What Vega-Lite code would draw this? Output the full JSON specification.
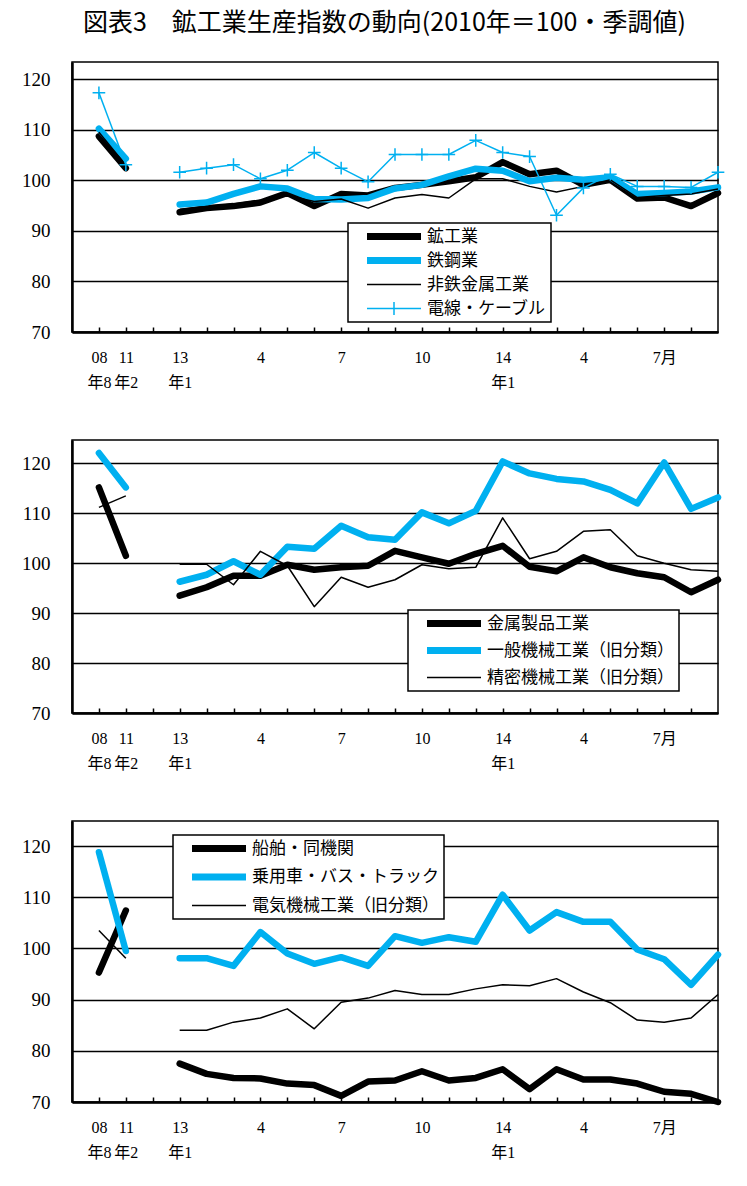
{
  "$schema": "https://vega.github.io/schema/vega-lite/v6.json",
  "padding": {"left": 20, "top": 11, "right": 5, "bottom": 5},
  "title": {
    "text": "図表3　鉱工業生産指数の動向(2010年＝100・季調値)",
    "font": "Noto Sans CJK JP",
    "fontSize": 25,
    "fontWeight": "normal",
    "color": "black",
    "anchor": "middle",
    "dx": 10,
    "offset": 25
  },
  "data": {
    "values": [
      {"p":1,"s":"鉱工業","g":"a","t":0,"v":108.7},{"p":1,"s":"鉱工業","g":"a","t":1,"v":102.4},
      {"p":1,"s":"鉱工業","g":"b","t":3,"v":93.7},{"p":1,"s":"鉱工業","g":"b","t":4,"v":94.5},{"p":1,"s":"鉱工業","g":"b","t":5,"v":94.9},
      {"p":1,"s":"鉱工業","g":"b","t":6,"v":95.6},{"p":1,"s":"鉱工業","g":"b","t":7,"v":97.5},{"p":1,"s":"鉱工業","g":"b","t":8,"v":94.9},
      {"p":1,"s":"鉱工業","g":"b","t":9,"v":97.3},{"p":1,"s":"鉱工業","g":"b","t":10,"v":97.0},{"p":1,"s":"鉱工業","g":"b","t":11,"v":98.5},
      {"p":1,"s":"鉱工業","g":"b","t":12,"v":99.1},{"p":1,"s":"鉱工業","g":"b","t":13,"v":99.8},{"p":1,"s":"鉱工業","g":"b","t":14,"v":100.6},
      {"p":1,"s":"鉱工業","g":"b","t":15,"v":103.6},{"p":1,"s":"鉱工業","g":"b","t":16,"v":101.2},{"p":1,"s":"鉱工業","g":"b","t":17,"v":101.9},
      {"p":1,"s":"鉱工業","g":"b","t":18,"v":99.1},{"p":1,"s":"鉱工業","g":"b","t":19,"v":100.1},{"p":1,"s":"鉱工業","g":"b","t":20,"v":96.4},
      {"p":1,"s":"鉱工業","g":"b","t":21,"v":96.6},{"p":1,"s":"鉱工業","g":"b","t":22,"v":94.9},{"p":1,"s":"鉱工業","g":"b","t":23,"v":97.5},

      {"p":1,"s":"鉄鋼業","g":"a","t":0,"v":110.2},{"p":1,"s":"鉄鋼業","g":"a","t":1,"v":104.3},
      {"p":1,"s":"鉄鋼業","g":"b","t":3,"v":95.2},{"p":1,"s":"鉄鋼業","g":"b","t":4,"v":95.6},{"p":1,"s":"鉄鋼業","g":"b","t":5,"v":97.3},
      {"p":1,"s":"鉄鋼業","g":"b","t":6,"v":98.8},{"p":1,"s":"鉄鋼業","g":"b","t":7,"v":98.4},{"p":1,"s":"鉄鋼業","g":"b","t":8,"v":96.3},
      {"p":1,"s":"鉄鋼業","g":"b","t":9,"v":96.2},{"p":1,"s":"鉄鋼業","g":"b","t":10,"v":96.5},{"p":1,"s":"鉄鋼業","g":"b","t":11,"v":98.4},
      {"p":1,"s":"鉄鋼業","g":"b","t":12,"v":99.1},{"p":1,"s":"鉄鋼業","g":"b","t":13,"v":100.8},{"p":1,"s":"鉄鋼業","g":"b","t":14,"v":102.3},
      {"p":1,"s":"鉄鋼業","g":"b","t":15,"v":101.9},{"p":1,"s":"鉄鋼業","g":"b","t":16,"v":99.8},{"p":1,"s":"鉄鋼業","g":"b","t":17,"v":100.5},
      {"p":1,"s":"鉄鋼業","g":"b","t":18,"v":100.1},{"p":1,"s":"鉄鋼業","g":"b","t":19,"v":100.6},{"p":1,"s":"鉄鋼業","g":"b","t":20,"v":97.3},
      {"p":1,"s":"鉄鋼業","g":"b","t":21,"v":97.5},{"p":1,"s":"鉄鋼業","g":"b","t":22,"v":97.8},{"p":1,"s":"鉄鋼業","g":"b","t":23,"v":98.6},

      {"p":1,"s":"非鉄金属工業","g":"a","t":0,"v":109.5},{"p":1,"s":"非鉄金属工業","g":"a","t":1,"v":103.0},
      {"p":1,"s":"非鉄金属工業","g":"b","t":3,"v":94.3},{"p":1,"s":"非鉄金属工業","g":"b","t":4,"v":94.8},{"p":1,"s":"非鉄金属工業","g":"b","t":5,"v":95.3},
      {"p":1,"s":"非鉄金属工業","g":"b","t":6,"v":96.0},{"p":1,"s":"非鉄金属工業","g":"b","t":7,"v":97.0},{"p":1,"s":"非鉄金属工業","g":"b","t":8,"v":95.8},
      {"p":1,"s":"非鉄金属工業","g":"b","t":9,"v":96.3},{"p":1,"s":"非鉄金属工業","g":"b","t":10,"v":94.5},{"p":1,"s":"非鉄金属工業","g":"b","t":11,"v":96.5},
      {"p":1,"s":"非鉄金属工業","g":"b","t":12,"v":97.2},{"p":1,"s":"非鉄金属工業","g":"b","t":13,"v":96.5},{"p":1,"s":"非鉄金属工業","g":"b","t":14,"v":100.3},
      {"p":1,"s":"非鉄金属工業","g":"b","t":15,"v":100.3},{"p":1,"s":"非鉄金属工業","g":"b","t":16,"v":98.8},{"p":1,"s":"非鉄金属工業","g":"b","t":17,"v":97.7},
      {"p":1,"s":"非鉄金属工業","g":"b","t":18,"v":98.8},{"p":1,"s":"非鉄金属工業","g":"b","t":19,"v":100.1},{"p":1,"s":"非鉄金属工業","g":"b","t":20,"v":96.6},
      {"p":1,"s":"非鉄金属工業","g":"b","t":21,"v":97.0},{"p":1,"s":"非鉄金属工業","g":"b","t":22,"v":97.3},{"p":1,"s":"非鉄金属工業","g":"b","t":23,"v":98.3},

      {"p":1,"s":"電線・ケーブル","g":"a","t":0,"v":117.3},{"p":1,"s":"電線・ケーブル","g":"a","t":1,"v":103.1},
      {"p":1,"s":"電線・ケーブル","g":"b","t":3,"v":101.6},{"p":1,"s":"電線・ケーブル","g":"b","t":4,"v":102.4},{"p":1,"s":"電線・ケーブル","g":"b","t":5,"v":103.1},
      {"p":1,"s":"電線・ケーブル","g":"b","t":6,"v":100.3},{"p":1,"s":"電線・ケーブル","g":"b","t":7,"v":102.0},{"p":1,"s":"電線・ケーブル","g":"b","t":8,"v":105.5},
      {"p":1,"s":"電線・ケーブル","g":"b","t":9,"v":102.4},{"p":1,"s":"電線・ケーブル","g":"b","t":10,"v":99.7},{"p":1,"s":"電線・ケーブル","g":"b","t":11,"v":105.1},
      {"p":1,"s":"電線・ケーブル","g":"b","t":12,"v":105.1},{"p":1,"s":"電線・ケーブル","g":"b","t":13,"v":105.1},{"p":1,"s":"電線・ケーブル","g":"b","t":14,"v":107.9},
      {"p":1,"s":"電線・ケーブル","g":"b","t":15,"v":105.5},{"p":1,"s":"電線・ケーブル","g":"b","t":16,"v":104.7},{"p":1,"s":"電線・ケーブル","g":"b","t":17,"v":93.1},
      {"p":1,"s":"電線・ケーブル","g":"b","t":18,"v":98.5},{"p":1,"s":"電線・ケーブル","g":"b","t":19,"v":101.2},{"p":1,"s":"電線・ケーブル","g":"b","t":20,"v":98.8},
      {"p":1,"s":"電線・ケーブル","g":"b","t":21,"v":98.8},{"p":1,"s":"電線・ケーブル","g":"b","t":22,"v":98.6},{"p":1,"s":"電線・ケーブル","g":"b","t":23,"v":101.6},

      {"p":2,"s":"金属製品工業","g":"a","t":0,"v":115.2},{"p":2,"s":"金属製品工業","g":"a","t":1,"v":101.5},
      {"p":2,"s":"金属製品工業","g":"b","t":3,"v":93.5},{"p":2,"s":"金属製品工業","g":"b","t":4,"v":95.2},{"p":2,"s":"金属製品工業","g":"b","t":5,"v":97.5},
      {"p":2,"s":"金属製品工業","g":"b","t":6,"v":97.5},{"p":2,"s":"金属製品工業","g":"b","t":7,"v":99.7},{"p":2,"s":"金属製品工業","g":"b","t":8,"v":98.7},
      {"p":2,"s":"金属製品工業","g":"b","t":9,"v":99.2},{"p":2,"s":"金属製品工業","g":"b","t":10,"v":99.5},{"p":2,"s":"金属製品工業","g":"b","t":11,"v":102.5},
      {"p":2,"s":"金属製品工業","g":"b","t":12,"v":101.2},{"p":2,"s":"金属製品工業","g":"b","t":13,"v":99.9},{"p":2,"s":"金属製品工業","g":"b","t":14,"v":101.9},
      {"p":2,"s":"金属製品工業","g":"b","t":15,"v":103.5},{"p":2,"s":"金属製品工業","g":"b","t":16,"v":99.3},{"p":2,"s":"金属製品工業","g":"b","t":17,"v":98.4},
      {"p":2,"s":"金属製品工業","g":"b","t":18,"v":101.2},{"p":2,"s":"金属製品工業","g":"b","t":19,"v":99.2},{"p":2,"s":"金属製品工業","g":"b","t":20,"v":98.0},
      {"p":2,"s":"金属製品工業","g":"b","t":21,"v":97.2},{"p":2,"s":"金属製品工業","g":"b","t":22,"v":94.2},{"p":2,"s":"金属製品工業","g":"b","t":23,"v":96.7},

      {"p":2,"s":"一般機械工業（旧分類）","g":"a","t":0,"v":122.1},{"p":2,"s":"一般機械工業（旧分類）","g":"a","t":1,"v":115.2},
      {"p":2,"s":"一般機械工業（旧分類）","g":"b","t":3,"v":96.3},{"p":2,"s":"一般機械工業（旧分類）","g":"b","t":4,"v":97.7},{"p":2,"s":"一般機械工業（旧分類）","g":"b","t":5,"v":100.4},
      {"p":2,"s":"一般機械工業（旧分類）","g":"b","t":6,"v":97.7},{"p":2,"s":"一般機械工業（旧分類）","g":"b","t":7,"v":103.3},{"p":2,"s":"一般機械工業（旧分類）","g":"b","t":8,"v":102.9},
      {"p":2,"s":"一般機械工業（旧分類）","g":"b","t":9,"v":107.5},{"p":2,"s":"一般機械工業（旧分類）","g":"b","t":10,"v":105.2},{"p":2,"s":"一般機械工業（旧分類）","g":"b","t":11,"v":104.7},
      {"p":2,"s":"一般機械工業（旧分類）","g":"b","t":12,"v":110.2},{"p":2,"s":"一般機械工業（旧分類）","g":"b","t":13,"v":108.0},{"p":2,"s":"一般機械工業（旧分類）","g":"b","t":14,"v":110.5},
      {"p":2,"s":"一般機械工業（旧分類）","g":"b","t":15,"v":120.4},{"p":2,"s":"一般機械工業（旧分類）","g":"b","t":16,"v":118.0},{"p":2,"s":"一般機械工業（旧分類）","g":"b","t":17,"v":116.9},
      {"p":2,"s":"一般機械工業（旧分類）","g":"b","t":18,"v":116.4},{"p":2,"s":"一般機械工業（旧分類）","g":"b","t":19,"v":114.7},{"p":2,"s":"一般機械工業（旧分類）","g":"b","t":20,"v":112.0},
      {"p":2,"s":"一般機械工業（旧分類）","g":"b","t":21,"v":120.2},{"p":2,"s":"一般機械工業（旧分類）","g":"b","t":22,"v":110.9},{"p":2,"s":"一般機械工業（旧分類）","g":"b","t":23,"v":113.2},

      {"p":2,"s":"精密機械工業（旧分類）","g":"a","t":0,"v":111.2},{"p":2,"s":"精密機械工業（旧分類）","g":"a","t":1,"v":113.5},
      {"p":2,"s":"精密機械工業（旧分類）","g":"b","t":3,"v":99.8},{"p":2,"s":"精密機械工業（旧分類）","g":"b","t":4,"v":99.8},{"p":2,"s":"精密機械工業（旧分類）","g":"b","t":5,"v":95.7},
      {"p":2,"s":"精密機械工業（旧分類）","g":"b","t":6,"v":102.4},{"p":2,"s":"精密機械工業（旧分類）","g":"b","t":7,"v":99.5},{"p":2,"s":"精密機械工業（旧分類）","g":"b","t":8,"v":91.3},
      {"p":2,"s":"精密機械工業（旧分類）","g":"b","t":9,"v":97.2},{"p":2,"s":"精密機械工業（旧分類）","g":"b","t":10,"v":95.2},{"p":2,"s":"精密機械工業（旧分類）","g":"b","t":11,"v":96.7},
      {"p":2,"s":"精密機械工業（旧分類）","g":"b","t":12,"v":99.7},{"p":2,"s":"精密機械工業（旧分類）","g":"b","t":13,"v":98.9},{"p":2,"s":"精密機械工業（旧分類）","g":"b","t":14,"v":99.2},
      {"p":2,"s":"精密機械工業（旧分類）","g":"b","t":15,"v":109.1},{"p":2,"s":"精密機械工業（旧分類）","g":"b","t":16,"v":100.9},{"p":2,"s":"精密機械工業（旧分類）","g":"b","t":17,"v":102.4},
      {"p":2,"s":"精密機械工業（旧分類）","g":"b","t":18,"v":106.4},{"p":2,"s":"精密機械工業（旧分類）","g":"b","t":19,"v":106.7},{"p":2,"s":"精密機械工業（旧分類）","g":"b","t":20,"v":101.5},
      {"p":2,"s":"精密機械工業（旧分類）","g":"b","t":21,"v":100.0},{"p":2,"s":"精密機械工業（旧分類）","g":"b","t":22,"v":98.7},{"p":2,"s":"精密機械工業（旧分類）","g":"b","t":23,"v":98.4},

      {"p":3,"s":"船舶・同機関","g":"a","t":0,"v":95.3},{"p":3,"s":"船舶・同機関","g":"a","t":1,"v":107.4},
      {"p":3,"s":"船舶・同機関","g":"b","t":3,"v":77.5},{"p":3,"s":"船舶・同機関","g":"b","t":4,"v":75.5},{"p":3,"s":"船舶・同機関","g":"b","t":5,"v":74.7},
      {"p":3,"s":"船舶・同機関","g":"b","t":6,"v":74.6},{"p":3,"s":"船舶・同機関","g":"b","t":7,"v":73.6},{"p":3,"s":"船舶・同機関","g":"b","t":8,"v":73.3},
      {"p":3,"s":"船舶・同機関","g":"b","t":9,"v":71.2},{"p":3,"s":"船舶・同機関","g":"b","t":10,"v":74.0},{"p":3,"s":"船舶・同機関","g":"b","t":11,"v":74.2},
      {"p":3,"s":"船舶・同機関","g":"b","t":12,"v":76.0},{"p":3,"s":"船舶・同機関","g":"b","t":13,"v":74.2},{"p":3,"s":"船舶・同機関","g":"b","t":14,"v":74.7},
      {"p":3,"s":"船舶・同機関","g":"b","t":15,"v":76.4},{"p":3,"s":"船舶・同機関","g":"b","t":16,"v":72.5},{"p":3,"s":"船舶・同機関","g":"b","t":17,"v":76.4},
      {"p":3,"s":"船舶・同機関","g":"b","t":18,"v":74.4},{"p":3,"s":"船舶・同機関","g":"b","t":19,"v":74.4},{"p":3,"s":"船舶・同機関","g":"b","t":20,"v":73.6},
      {"p":3,"s":"船舶・同機関","g":"b","t":21,"v":72.0},{"p":3,"s":"船舶・同機関","g":"b","t":22,"v":71.6},{"p":3,"s":"船舶・同機関","g":"b","t":23,"v":70.0},

      {"p":3,"s":"乗用車・バス・トラック","g":"a","t":0,"v":118.8},{"p":3,"s":"乗用車・バス・トラック","g":"a","t":1,"v":99.5},
      {"p":3,"s":"乗用車・バス・トラック","g":"b","t":3,"v":98.1},{"p":3,"s":"乗用車・バス・トラック","g":"b","t":4,"v":98.1},{"p":3,"s":"乗用車・バス・トラック","g":"b","t":5,"v":96.6},
      {"p":3,"s":"乗用車・バス・トラック","g":"b","t":6,"v":103.2},{"p":3,"s":"乗用車・バス・トラック","g":"b","t":7,"v":99.0},{"p":3,"s":"乗用車・バス・トラック","g":"b","t":8,"v":97.0},
      {"p":3,"s":"乗用車・バス・トラック","g":"b","t":9,"v":98.3},{"p":3,"s":"乗用車・バス・トラック","g":"b","t":10,"v":96.6},{"p":3,"s":"乗用車・バス・トラック","g":"b","t":11,"v":102.4},
      {"p":3,"s":"乗用車・バス・トラック","g":"b","t":12,"v":101.1},{"p":3,"s":"乗用車・バス・トラック","g":"b","t":13,"v":102.2},{"p":3,"s":"乗用車・バス・トラック","g":"b","t":14,"v":101.3},
      {"p":3,"s":"乗用車・バス・トラック","g":"b","t":15,"v":110.5},{"p":3,"s":"乗用車・バス・トラック","g":"b","t":16,"v":103.5},{"p":3,"s":"乗用車・バス・トラック","g":"b","t":17,"v":107.1},
      {"p":3,"s":"乗用車・バス・トラック","g":"b","t":18,"v":105.2},{"p":3,"s":"乗用車・バス・トラック","g":"b","t":19,"v":105.2},{"p":3,"s":"乗用車・バス・トラック","g":"b","t":20,"v":99.8},
      {"p":3,"s":"乗用車・バス・トラック","g":"b","t":21,"v":97.9},{"p":3,"s":"乗用車・バス・トラック","g":"b","t":22,"v":92.9},{"p":3,"s":"乗用車・バス・トラック","g":"b","t":23,"v":98.8},

      {"p":3,"s":"電気機械工業（旧分類）","g":"a","t":0,"v":103.5},{"p":3,"s":"電気機械工業（旧分類）","g":"a","t":1,"v":98.1},
      {"p":3,"s":"電気機械工業（旧分類）","g":"b","t":3,"v":84.0},{"p":3,"s":"電気機械工業（旧分類）","g":"b","t":4,"v":84.0},{"p":3,"s":"電気機械工業（旧分類）","g":"b","t":5,"v":85.6},
      {"p":3,"s":"電気機械工業（旧分類）","g":"b","t":6,"v":86.4},{"p":3,"s":"電気機械工業（旧分類）","g":"b","t":7,"v":88.2},{"p":3,"s":"電気機械工業（旧分類）","g":"b","t":8,"v":84.3},
      {"p":3,"s":"電気機械工業（旧分類）","g":"b","t":9,"v":89.5},{"p":3,"s":"電気機械工業（旧分類）","g":"b","t":10,"v":90.3},{"p":3,"s":"電気機械工業（旧分類）","g":"b","t":11,"v":91.8},
      {"p":3,"s":"電気機械工業（旧分類）","g":"b","t":12,"v":91.0},{"p":3,"s":"電気機械工業（旧分類）","g":"b","t":13,"v":91.0},{"p":3,"s":"電気機械工業（旧分類）","g":"b","t":14,"v":92.1},
      {"p":3,"s":"電気機械工業（旧分類）","g":"b","t":15,"v":92.9},{"p":3,"s":"電気機械工業（旧分類）","g":"b","t":16,"v":92.7},{"p":3,"s":"電気機械工業（旧分類）","g":"b","t":17,"v":94.1},
      {"p":3,"s":"電気機械工業（旧分類）","g":"b","t":18,"v":91.5},{"p":3,"s":"電気機械工業（旧分類）","g":"b","t":19,"v":89.4},{"p":3,"s":"電気機械工業（旧分類）","g":"b","t":20,"v":86.0},
      {"p":3,"s":"電気機械工業（旧分類）","g":"b","t":21,"v":85.6},{"p":3,"s":"電気機械工業（旧分類）","g":"b","t":22,"v":86.4},{"p":3,"s":"電気機械工業（旧分類）","g":"b","t":23,"v":91.0}
    ]
  },
  "spacing": 48,
  "resolve": {
    "scale": {"x": "independent", "y": "independent", "color": "independent"},
    "legend": {"color": "independent"}
  },
  "vconcat": [
    {
      "width": 646,
      "height": 270,
      "transform": [{"filter": "datum.p == 1"}],
      "encoding": {
        "x": {
          "field": "t", "type": "quantitative",
          "scale": {"domain": [-1, 23], "nice": false, "zero": false},
          "axis": {
            "values": [0,1,2,3,4,5,6,7,8,9,10,11,12,13,14,15,16,17,18,19,20,21,22],
            "labelExpr": "datum.value==0?['08','年8']:datum.value==1?['11','年2']:datum.value==3?['13','年1']:datum.value==6?'4':datum.value==9?'7':datum.value==12?'10':datum.value==15?['14','年1']:datum.value==18?'4':datum.value==21?'7月':''"
          }
        },
        "y": {
          "field": "v", "type": "quantitative",
          "scale": {"domain": [70, 123.4], "nice": false, "zero": false},
          "axis": {"values": [70, 80, 90, 100, 110, 120]}
        },
        "detail": {"field": "g"},
        "color": {
          "field": "s", "type": "nominal",
          "scale": {"domain": ["鉱工業", "鉄鋼業", "非鉄金属工業", "電線・ケーブル"], "range": ["#000000", "#00B0F0", "#000000", "#00B0F0"]},
          "legend": {
            "legendX": 276, "legendY": 161, "rowPadding": 6,
            "encode": {"symbols": {"update": {
              "shape": {"signal": "indexof(['鉱工業','鉄鋼業'], datum.value) >= 0 ? 'M1.1,-0.7H11.9V0.7H1.1Z' : datum.value == '電線・ケーブル' ? 'M1.1,-0.15H11.9V0.15H1.1ZM6.35,-1.3H6.65V1.3H6.35Z' : 'M1.1,-0.15H11.9V0.15H1.1Z'"},
              "fill": {"signal": "indexof(['鉄鋼業','電線・ケーブル'], datum.value) >= 0 ? '#00B0F0' : '#000000'"},
              "fillOpacity": {"value": 1},
              "stroke": {"value": "transparent"},
              "strokeWidth": {"value": 0}
            }}}
          }
        }
      },
      "layer": [
        {
          "transform": [{"filter": "indexof(['鉱工業','鉄鋼業'], datum.s) >= 0"}],
          "mark": {"type": "line", "strokeWidth": 6.5, "strokeCap": "round", "strokeJoin": "round"},
          "encoding": {}
        },
        {
          "transform": [{"filter": "indexof(['鉱工業','鉄鋼業'], datum.s) < 0"}],
          "mark": {"type": "line", "strokeWidth": 1.5, "strokeJoin": "round"},
          "encoding": {}
        },
        {
          "transform": [{"filter": "datum.s == '電線・ケーブル'"}],
          "mark": {"type": "point", "shape": "M-1,0H1M0,-1V1", "size": 160, "filled": false, "strokeWidth": 1.5, "opacity": 1},
          "encoding": {"color": {"value": "#00B0F0"}}
        }
      ]
    },
    {
      "width": 646,
      "height": 273,
      "transform": [{"filter": "datum.p == 2"}],
      "encoding": {
        "x": {
          "field": "t", "type": "quantitative",
          "scale": {"domain": [-1, 23], "nice": false, "zero": false},
          "axis": {
            "values": [0,1,2,3,4,5,6,7,8,9,10,11,12,13,14,15,16,17,18,19,20,21,22],
            "labelExpr": "datum.value==0?['08','年8']:datum.value==1?['11','年2']:datum.value==3?['13','年1']:datum.value==6?'4':datum.value==9?'7':datum.value==12?'10':datum.value==15?['14','年1']:datum.value==18?'4':datum.value==21?'7月':''"
          }
        },
        "y": {
          "field": "v", "type": "quantitative",
          "scale": {"domain": [70, 124.7], "nice": false, "zero": false},
          "axis": {"values": [70, 80, 90, 100, 110, 120]}
        },
        "detail": {"field": "g"},
        "color": {
          "field": "s", "type": "nominal",
          "scale": {"domain": ["金属製品工業", "一般機械工業（旧分類）", "精密機械工業（旧分類）"], "range": ["#000000", "#00B0F0", "#000000"]},
          "legend": {
            "legendX": 336, "legendY": 170, "rowPadding": 9,
            "encode": {"symbols": {"update": {
              "shape": {"signal": "datum.value == '精密機械工業（旧分類）' ? 'M1.1,-0.15H11.9V0.15H1.1Z' : 'M1.1,-0.7H11.9V0.7H1.1Z'"},
              "fill": {"signal": "datum.value == '一般機械工業（旧分類）' ? '#00B0F0' : '#000000'"},
              "fillOpacity": {"value": 1},
              "stroke": {"value": "transparent"},
              "strokeWidth": {"value": 0}
            }}}
          }
        }
      },
      "layer": [
        {
          "transform": [{"filter": "datum.s != '精密機械工業（旧分類）'"}],
          "mark": {"type": "line", "strokeWidth": 6.5, "strokeCap": "round", "strokeJoin": "round"},
          "encoding": {}
        },
        {
          "transform": [{"filter": "datum.s == '精密機械工業（旧分類）'"}],
          "mark": {"type": "line", "strokeWidth": 1.5, "strokeJoin": "round"},
          "encoding": {}
        }
      ]
    },
    {
      "width": 646,
      "height": 281,
      "transform": [{"filter": "datum.p == 3"}],
      "encoding": {
        "x": {
          "field": "t", "type": "quantitative",
          "scale": {"domain": [-1, 23], "nice": false, "zero": false},
          "axis": {
            "values": [0,1,2,3,4,5,6,7,8,9,10,11,12,13,14,15,16,17,18,19,20,21,22],
            "labelExpr": "datum.value==0?['08','年8']:datum.value==1?['11','年2']:datum.value==3?['13','年1']:datum.value==6?'4':datum.value==9?'7':datum.value==12?'10':datum.value==15?['14','年1']:datum.value==18?'4':datum.value==21?'7月':''"
          }
        },
        "y": {
          "field": "v", "type": "quantitative",
          "scale": {"domain": [70, 124.9], "nice": false, "zero": false},
          "axis": {"values": [70, 80, 90, 100, 110, 120]}
        },
        "detail": {"field": "g"},
        "color": {
          "field": "s", "type": "nominal",
          "scale": {"domain": ["船舶・同機関", "乗用車・バス・トラック", "電気機械工業（旧分類）"], "range": ["#000000", "#00B0F0", "#000000"]},
          "legend": {
            "legendX": 101, "legendY": 14, "rowPadding": 10.5,
            "encode": {"symbols": {"update": {
              "shape": {"signal": "datum.value == '電気機械工業（旧分類）' ? 'M1.1,-0.15H11.9V0.15H1.1Z' : 'M1.1,-0.7H11.9V0.7H1.1Z'"},
              "fill": {"signal": "datum.value == '乗用車・バス・トラック' ? '#00B0F0' : '#000000'"},
              "fillOpacity": {"value": 1},
              "stroke": {"value": "transparent"},
              "strokeWidth": {"value": 0}
            }}}
          }
        }
      },
      "layer": [
        {
          "transform": [{"filter": "datum.s != '電気機械工業（旧分類）'"}],
          "mark": {"type": "line", "strokeWidth": 6.5, "strokeCap": "round", "strokeJoin": "round"},
          "encoding": {}
        },
        {
          "transform": [{"filter": "datum.s == '電気機械工業（旧分類）'"}],
          "mark": {"type": "line", "strokeWidth": 1.5, "strokeJoin": "round"},
          "encoding": {}
        }
      ]
    }
  ],
  "config": {
    "background": "white",
    "view": {"stroke": "black", "strokeWidth": 1.5},
    "axisX": {
      "title": null,
      "grid": false,
      "domainColor": "black",
      "domainWidth": 2.5,
      "tickColor": "black",
      "tickWidth": 1.5,
      "tickSize": -5,
      "labelPadding": 22,
      "labelFont": "Liberation Serif, Noto Sans CJK JP",
      "labelFontSize": 16,
      "labelColor": "black",
      "labelBaseline": "top",
      "labelLineHeight": 25,
      "labelOverlap": false,
      "labelFlush": false,
      "labelBound": false
    },
    "axisY": {
      "title": null,
      "grid": true,
      "gridColor": "black",
      "gridWidth": 1.5,
      "gridOpacity": 1,
      "ticks": false,
      "domainColor": "black",
      "domainWidth": 2.5,
      "labelPadding": 22,
      "labelFont": "Liberation Serif",
      "labelFontSize": 19,
      "labelColor": "black",
      "labelFlush": false,
      "labelOverlap": false
    },
    "legend": {
      "orient": "none",
      "title": null,
      "symbolType": "M1.1,-0.15H11.9V0.15H1.1Z",
      "symbolSize": 100,
      "symbolStrokeWidth": 0,
      "labelFont": "Noto Sans CJK JP",
      "labelFontSize": 17,
      "labelColor": "black",
      "labelLimit": 400,
      "labelOffset": 57,
      "padding": 5,
      "strokeColor": "black",
      "strokeWidth": 1.5,
      "fillColor": "white"
    }
  }
}
